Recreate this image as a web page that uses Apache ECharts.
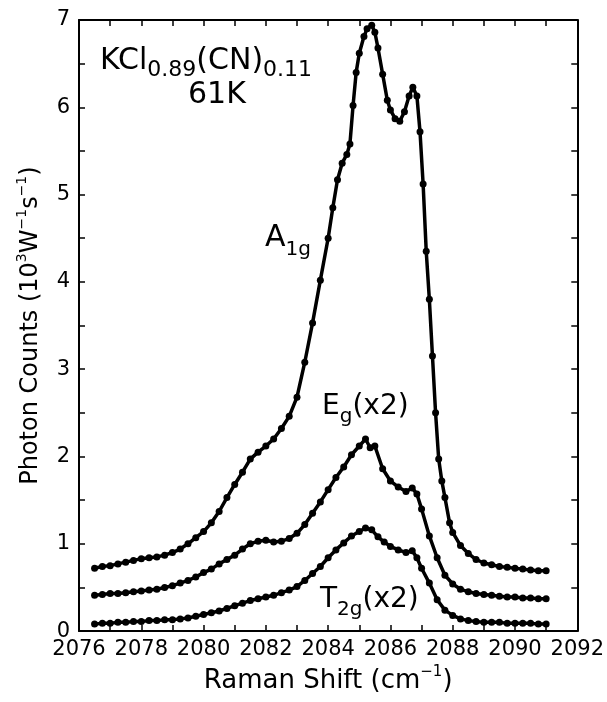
<!DOCTYPE html>
<html><head><meta charset="utf-8">
<script src="https://cdn.jsdelivr.net/npm/echarts@6/dist/echarts.min.js"></script>
<style>html,body{margin:0;padding:0;background:#fff}#c{width:607px;height:702px}</style>
</head><body><div id="c"></div>
<script>
// ---- data (Raman shift in cm^-1, photon counts in 10^3 W^-1 s^-1) ----
const xTicks = [2076, 2078, 2080, 2082, 2084, 2086, 2088, 2090, 2092];
const yTicks = [0, 1, 2, 3, 4, 5, 6, 7];

const a1gShift = [2076.5, 2076.75, 2077, 2077.25, 2077.5, 2077.75, 2078, 2078.25, 2078.5, 2078.75, 2079, 2079.25, 2079.5, 2079.75, 2080, 2080.25, 2080.5, 2080.75, 2081, 2081.25, 2081.5, 2081.75, 2082, 2082.25, 2082.5, 2082.75, 2083, 2083.25, 2083.5, 2083.75, 2084, 2084.15, 2084.3, 2084.45, 2084.6, 2084.7, 2084.8, 2084.9, 2085, 2085.15, 2085.25, 2085.4, 2085.5, 2085.6, 2085.75, 2085.9, 2086, 2086.15, 2086.3, 2086.45, 2086.6, 2086.72, 2086.85, 2086.95, 2087.05, 2087.15, 2087.25, 2087.35, 2087.45, 2087.55, 2087.65, 2087.75, 2087.9, 2088, 2088.25, 2088.5, 2088.75, 2089, 2089.25, 2089.5, 2089.75, 2090, 2090.25, 2090.5, 2090.75, 2091];
const a1gCounts = [0.72, 0.74, 0.75, 0.77, 0.79, 0.81, 0.83, 0.84, 0.85, 0.87, 0.90, 0.94, 1.00, 1.07, 1.14, 1.24, 1.37, 1.53, 1.68, 1.82, 1.97, 2.05, 2.12, 2.20, 2.32, 2.46, 2.68, 3.08, 3.53, 4.02, 4.50, 4.85, 5.17, 5.36, 5.46, 5.58, 6.02, 6.40, 6.62, 6.81, 6.90, 6.94, 6.86, 6.68, 6.38, 6.08, 5.97, 5.87, 5.84, 5.95, 6.13, 6.23, 6.13, 5.72, 5.12, 4.35, 3.80, 3.15, 2.50, 1.97, 1.72, 1.53, 1.24, 1.13, 0.98, 0.89, 0.82, 0.78, 0.76, 0.74, 0.73, 0.72, 0.71, 0.70, 0.69, 0.69];

const egShift = [2076.5, 2076.75, 2077, 2077.25, 2077.5, 2077.75, 2078, 2078.25, 2078.5, 2078.75, 2079, 2079.25, 2079.5, 2079.75, 2080, 2080.25, 2080.5, 2080.75, 2081, 2081.25, 2081.5, 2081.75, 2082, 2082.25, 2082.5, 2082.75, 2083, 2083.25, 2083.5, 2083.75, 2084, 2084.25, 2084.5, 2084.75, 2085, 2085.2, 2085.35, 2085.5, 2085.75, 2086, 2086.25, 2086.5, 2086.7, 2086.85, 2087, 2087.25, 2087.5, 2087.75, 2088, 2088.25, 2088.5, 2088.75, 2089, 2089.25, 2089.5, 2089.75, 2090, 2090.25, 2090.5, 2090.75, 2091];
const egCounts = [0.41, 0.42, 0.43, 0.43, 0.44, 0.45, 0.46, 0.47, 0.48, 0.50, 0.52, 0.55, 0.58, 0.62, 0.67, 0.71, 0.77, 0.82, 0.87, 0.94, 1.00, 1.03, 1.04, 1.02, 1.03, 1.06, 1.12, 1.22, 1.35, 1.48, 1.62, 1.76, 1.88, 2.02, 2.12, 2.20, 2.10, 2.12, 1.86, 1.72, 1.65, 1.60, 1.64, 1.57, 1.40, 1.09, 0.84, 0.64, 0.54, 0.48, 0.45, 0.43, 0.42, 0.41, 0.40, 0.39, 0.39, 0.38, 0.38, 0.37, 0.37];

const t2gShift = [2076.5, 2076.75, 2077, 2077.25, 2077.5, 2077.75, 2078, 2078.25, 2078.5, 2078.75, 2079, 2079.25, 2079.5, 2079.75, 2080, 2080.25, 2080.5, 2080.75, 2081, 2081.25, 2081.5, 2081.75, 2082, 2082.25, 2082.5, 2082.75, 2083, 2083.25, 2083.5, 2083.75, 2084, 2084.25, 2084.5, 2084.75, 2085, 2085.2, 2085.4, 2085.6, 2085.8, 2086, 2086.25, 2086.5, 2086.7, 2086.85, 2087, 2087.25, 2087.5, 2087.75, 2088, 2088.25, 2088.5, 2088.75, 2089, 2089.25, 2089.5, 2089.75, 2090, 2090.25, 2090.5, 2090.75, 2091];
const t2gCounts = [0.08, 0.09, 0.09, 0.10, 0.10, 0.11, 0.11, 0.12, 0.12, 0.13, 0.13, 0.14, 0.15, 0.17, 0.19, 0.21, 0.23, 0.26, 0.29, 0.32, 0.35, 0.37, 0.39, 0.41, 0.44, 0.47, 0.51, 0.58, 0.66, 0.74, 0.84, 0.93, 1.01, 1.09, 1.14, 1.18, 1.16, 1.08, 1.02, 0.97, 0.93, 0.90, 0.92, 0.84, 0.72, 0.55, 0.36, 0.24, 0.18, 0.14, 0.12, 0.11, 0.10, 0.10, 0.10, 0.09, 0.09, 0.09, 0.09, 0.08, 0.08];

const seriesNames = ['A1g', 'Eg (x2)', 'T2g (x2)'];

// ---- chart ----
const FONT = "'DejaVu Sans', sans-serif";
const pair = (xs, ys) => xs.map((x, i) => [x, ys[i]]);
const black = '#000';

function curve(name, xs, ys) {
  return {
    name, type: 'line', data: pair(xs, ys),
    showSymbol: true, symbol: 'circle', symbolSize: 7,
    itemStyle: { color: black }, lineStyle: { color: black, width: 3.5 },
    animation: false, silent: true
  };
}

const tickCommon = {
  axisLine: { show: true, onZero: false, lineStyle: { color: black, width: 2 } },
  axisTick: { show: true, inside: true, length: 6, lineStyle: { color: black, width: 1.5 } },
  minorTick: { show: true, splitNumber: 2, length: 6, lineStyle: { color: black, width: 1.5 } },
  splitLine: { show: false }, minorSplitLine: { show: false }
};

const chart = echarts.init(document.getElementById('c'), null, { renderer: 'canvas' });
chart.setOption({
  backgroundColor: '#fff',
  animation: false,
  grid: { left: 79, right: 28, top: 20, bottom: 70, containLabel: false },
  xAxis: [
    Object.assign({
      type: 'value', position: 'bottom', min: xTicks[0], max: xTicks[xTicks.length - 1], interval: 2,
      axisLabel: { color: black, fontSize: 21, fontFamily: FONT, margin: 8, formatter: v => String(v) },
      name: 'Raman Shift (cm{sup|−1})', nameLocation: 'middle', nameGap: 22,
      nameTextStyle: { color: black, fontSize: 26, fontFamily: FONT, lineHeight: 32,
        rich: { sup: { fontSize: 15, lineHeight: 15, verticalAlign: 'top', fontFamily: FONT, color: black } } }
    }, tickCommon),
    Object.assign({
      type: 'value', position: 'top', min: xTicks[0], max: xTicks[xTicks.length - 1], interval: 2,
      axisLabel: { show: false }
    }, tickCommon)
  ],
  yAxis: [
    Object.assign({
      type: 'value', position: 'left', min: yTicks[0], max: yTicks[yTicks.length - 1], interval: 1,
      axisLabel: { color: black, fontSize: 21, fontFamily: FONT, margin: 9, formatter: v => String(v) },
      name: 'Photon Counts (10{sup|3}W{sup|−1}s{sup|−1})', nameLocation: 'middle', nameRotate: 90, nameGap: 33,
      nameTextStyle: { color: black, fontSize: 24, fontFamily: FONT, lineHeight: 30,
        rich: { sup: { fontSize: 14, lineHeight: 14, verticalAlign: 'top', fontFamily: FONT, color: black } } }
    }, tickCommon),
    Object.assign({
      type: 'value', position: 'right', min: yTicks[0], max: yTicks[yTicks.length - 1], interval: 1,
      axisLabel: { show: false }
    }, tickCommon)
  ],
  series: [
    curve(seriesNames[0], a1gShift, a1gCounts),
    curve(seriesNames[1], egShift, egCounts),
    curve(seriesNames[2], t2gShift, t2gCounts)
  ],
  graphic: [
    { type: 'text', x: 100, y: 61, silent: true, style: {
      text: 'KCl{s|0.89}(CN){s|0.11}', fontSize: 30, lineHeight: 40, fontFamily: FONT, fill: black, verticalAlign: 'middle',
      rich: { s: { fontSize: 22, lineHeight: 22, verticalAlign: 'bottom', fontFamily: FONT, fill: black } } } },
    { type: 'text', x: 188, y: 95, silent: true, style: {
      text: '61K', fontSize: 30, fontFamily: FONT, fill: black, verticalAlign: 'middle' } },
    { type: 'text', x: 265, y: 238, silent: true, style: {
      text: 'A{s|1g}', fontSize: 30, lineHeight: 44, fontFamily: FONT, fill: black, verticalAlign: 'middle',
      rich: { s: { fontSize: 20, lineHeight: 20, verticalAlign: 'bottom', fontFamily: FONT, fill: black } } } },
    { type: 'text', x: 322, y: 407, silent: true, style: {
      text: 'E{s|g}(x2)', fontSize: 28, lineHeight: 40, fontFamily: FONT, fill: black, verticalAlign: 'middle',
      rich: { s: { fontSize: 20, lineHeight: 20, verticalAlign: 'bottom', fontFamily: FONT, fill: black } } } },
    { type: 'text', x: 320, y: 600, silent: true, style: {
      text: 'T{s|2g}(x2)', fontSize: 28, lineHeight: 40, fontFamily: FONT, fill: black, verticalAlign: 'middle',
      rich: { s: { fontSize: 20, lineHeight: 20, verticalAlign: 'bottom', fontFamily: FONT, fill: black } } } }
  ]
});
</script></body></html>
